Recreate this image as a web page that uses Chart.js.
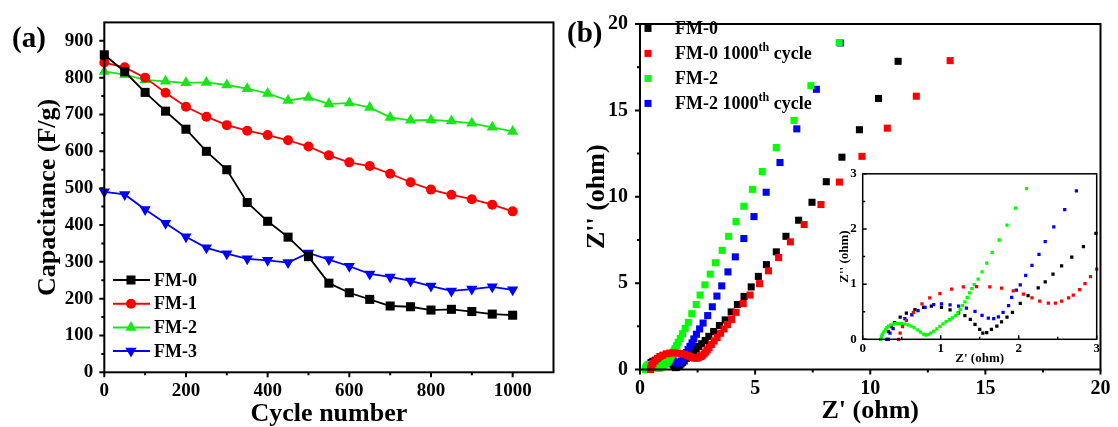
<!DOCTYPE html>
<html>
<head>
<meta charset="utf-8">
<script src="https://cdn.jsdelivr.net/npm/chart.js@4.4.1/dist/chart.umd.min.js"></script>
<style>
    body { margin: 0; background: #fff; }
    #wrap { position: relative; width: 1118px; height: 427px; overflow: hidden; background: #fff; }
    canvas { position: absolute; }
</style>
</head>
<body>
<div id="wrap">
    <canvas id="capChart" width="560" height="427" style="left:0;top:0"></canvas>
    <canvas id="eisChart" width="558" height="427" style="left:560px;top:0"></canvas>
    <canvas id="insetChart" width="270" height="215" style="left:836px;top:160px"></canvas>
</div>
<script>
// (a) capacitance vs cycle number
const cycles = [0, 50, 100, 150, 200, 250, 300, 350, 400, 450, 500, 550, 600, 650, 700, 750, 800, 850, 900, 950, 1000];
const fm0Cap = [862, 816, 760, 709, 660, 600, 550, 461, 410, 367, 314, 242, 216, 198, 180, 178, 169, 171, 165, 158, 155];
const fm1Cap = [841, 828, 800, 759, 721, 694, 671, 656, 644, 630, 613, 589, 570, 560, 539, 516, 496, 482, 470, 455, 437];
const fm2Cap = [817, 808, 794, 790, 786, 787, 780, 770, 757, 738, 746, 729, 731, 719, 692, 684, 685, 682, 676, 665, 654];
const fm3Cap = [490, 483, 442, 405, 368, 338, 322, 308, 304, 298, 324, 306, 288, 267, 259, 248, 234, 221, 226, 232, 224];

// (b) Nyquist plots, Z' and Z''
const fm0Re = [0.31, 0.33, 0.37, 0.41, 0.48, 0.56, 0.67, 0.78, 0.88, 1.01, 1.12, 1.23, 1.31, 1.38, 1.44, 1.50, 1.54, 1.59, 1.65, 1.72, 1.78, 1.85, 1.92, 2.02, 2.12, 2.25, 2.34, 2.44, 2.55, 2.68, 2.83, 2.99, 3.2, 3.45, 3.70, 3.96, 4.23, 4.52, 4.83, 5.14, 5.49, 5.92, 6.34, 6.89, 7.47, 8.09, 8.77, 9.53, 10.36, 11.21];
const fm0Im = [0, 0.14, 0.23, 0.30, 0.40, 0.475, 0.54, 0.58, 0.60, 0.58, 0.535, 0.48, 0.43, 0.36, 0.27, 0.18, 0.11, 0.12, 0.18, 0.24, 0.315, 0.40, 0.49, 0.65, 0.79, 0.93, 1.04, 1.18, 1.33, 1.49, 1.68, 1.92, 2.2, 2.55, 2.87, 3.33, 3.76, 4.23, 4.78, 5.39, 6.07, 6.81, 7.71, 8.64, 9.68, 10.87, 12.29, 13.88, 15.69, 17.84];

const fm0cRe = [0.46, 0.48, 0.51, 0.56, 0.65, 0.76, 0.86, 0.99, 1.14, 1.29, 1.46, 1.63, 1.78, 1.93, 2.06, 2.17, 2.27, 2.38, 2.47, 2.55, 2.64, 2.70, 2.78, 2.85, 2.92, 3.0, 3.1, 3.22, 3.35, 3.5, 3.65, 3.8, 3.98, 4.17, 4.48, 4.78, 5.19, 5.58, 6.02, 6.53, 7.13, 7.86, 8.66, 9.64, 10.74, 12.0, 13.47];
const fm0cIm = [0, 0.11, 0.23, 0.345, 0.49, 0.64, 0.75, 0.83, 0.91, 0.95, 0.957, 0.95, 0.927, 0.88, 0.82, 0.75, 0.69, 0.655, 0.655, 0.69, 0.75, 0.80, 0.90, 1.01, 1.135, 1.27, 1.45, 1.65, 1.85, 2.1, 2.35, 2.6, 2.89, 3.31, 3.82, 4.31, 4.97, 5.71, 6.48, 7.39, 8.39, 9.55, 10.85, 12.34, 13.97, 15.82, 17.88];

const fm2Re = [0.23, 0.24, 0.25, 0.27, 0.29, 0.31, 0.33, 0.36, 0.39, 0.42, 0.46, 0.50, 0.54, 0.58, 0.62, 0.66, 0.70, 0.74, 0.78, 0.81, 0.84, 0.87, 0.91, 0.95, 0.99, 1.03, 1.07, 1.11, 1.15, 1.19, 1.22, 1.25, 1.28, 1.31, 1.34, 1.37, 1.40, 1.43, 1.48, 1.53, 1.59, 1.66, 1.75, 1.85, 1.96, 2.10, 2.25, 2.44, 2.61, 2.82, 3.05, 3.28, 3.57, 3.85, 4.17, 4.51, 4.89, 5.31, 5.92, 6.69, 7.42, 8.65];
const fm2Im = [0, 0.05, 0.09, 0.13, 0.17, 0.21, 0.24, 0.26, 0.275, 0.285, 0.29, 0.285, 0.275, 0.26, 0.24, 0.21, 0.17, 0.13, 0.095, 0.075, 0.085, 0.11, 0.15, 0.19, 0.235, 0.28, 0.32, 0.355, 0.39, 0.43, 0.48, 0.54, 0.61, 0.68, 0.76, 0.84, 0.92, 0.99, 1.09, 1.22, 1.38, 1.575, 1.80, 2.07, 2.38, 2.73, 3.23, 3.76, 4.31, 4.90, 5.52, 6.18, 6.90, 7.71, 8.56, 9.45, 10.43, 11.46, 12.85, 14.42, 16.43, 18.92];

const fm2cRe = [0.33, 0.35, 0.39, 0.46, 0.54, 0.63, 0.71, 0.80, 0.91, 1.01, 1.12, 1.23, 1.33, 1.44, 1.53, 1.61, 1.68, 1.74, 1.80, 1.87, 1.91, 1.97, 2.02, 2.09, 2.17, 2.26, 2.34, 2.45, 2.59, 2.74, 2.94, 3.14, 3.34, 3.55, 3.82, 4.14, 4.51, 4.95, 5.48, 6.08, 6.81, 7.66, 8.7];
const fm2cIm = [0, 0.11, 0.195, 0.285, 0.375, 0.445, 0.52, 0.58, 0.63, 0.64, 0.625, 0.60, 0.565, 0.505, 0.435, 0.385, 0.375, 0.405, 0.49, 0.61, 0.76, 0.89, 0.985, 1.16, 1.34, 1.54, 1.77, 2.04, 2.35, 2.69, 3.12, 3.63, 4.25, 4.84, 5.65, 6.52, 7.58, 8.85, 10.26, 11.98, 13.93, 16.22, 18.9];

const serif = "'Liberation Serif', 'Times New Roman', serif";
Chart.defaults.font.family = serif;
Chart.defaults.color = '#000';

function pairs(xs, ys) {
    return xs.map((x, i) => ({ x: x, y: ys[i] }));
}

function isMajor(v, step) {
    return Math.abs(v / step - Math.round(v / step)) < 1e-6;
}

// box round the plot, with major and minor ticks
const framePlugin = {
    id: 'frame',
    beforeDatasetsDraw(chart, args, opts) {
        if (!opts.fill) return;
        const a = chart.chartArea;
        chart.ctx.save();
        chart.ctx.fillStyle = opts.fill;
        chart.ctx.fillRect(a.left, a.top, a.right - a.left, a.bottom - a.top);
        chart.ctx.restore();
    },
    afterDraw(chart, args, opts) {
        const ctx = chart.ctx;
        const a = chart.chartArea;
        const xs = chart.scales.x, ys = chart.scales.y;
        const dir = opts.inward ? -1 : 1;
        ctx.save();
        ctx.strokeStyle = '#000';
        ctx.lineWidth = opts.lineWidth;
        ctx.beginPath();
        for (let v = xs.min; v <= xs.max + 1e-9; v += opts.xMinor) {
            const major = isMajor(v, opts.xMajor);
            if (!major && v > xs.max - 1e-6) continue;
            const px = xs.getPixelForValue(v);
            ctx.moveTo(px, a.bottom);
            ctx.lineTo(px, a.bottom + dir * (major ? opts.len : opts.minorLen));
        }
        for (let v = ys.min; v <= ys.max + 1e-9; v += opts.yMinor) {
            const major = isMajor(v, opts.yMajor);
            if (!major && v > ys.max - 1e-6) continue;
            const py = ys.getPixelForValue(v);
            ctx.moveTo(a.left, py);
            ctx.lineTo(a.left - dir * (major ? opts.len : opts.minorLen), py);
        }
        ctx.stroke();
        ctx.strokeRect(a.left, a.top, a.right - a.left, a.bottom - a.top);
        ctx.restore();
    }
};

function drawMarker(ctx, style, x, y, r, color) {
    ctx.fillStyle = color;
    ctx.beginPath();
    if (style === 'rect') {
        const s = Math.SQRT1_2 * r;
        ctx.rect(x - s, y - s, 2 * s, 2 * s);
    } else if (style === 'circle') {
        ctx.arc(x, y, r, 0, Math.PI * 2);
    } else if (style === 'triangle') {
        ctx.moveTo(x, y - r);
        ctx.lineTo(x + r * 0.866, y + r * 0.5);
        ctx.lineTo(x - r * 0.866, y + r * 0.5);
        ctx.closePath();
    } else if (style === 'triangleDown') {
        ctx.moveTo(x, y + r);
        ctx.lineTo(x + r * 0.866, y - r * 0.5);
        ctx.lineTo(x - r * 0.866, y - r * 0.5);
        ctx.closePath();
    }
    ctx.fill();
}

const panelLabel = {
    id: 'panelLabel',
    afterDraw(chart, args, opts) {
        const ctx = chart.ctx;
        ctx.save();
        ctx.fillStyle = '#000';
        ctx.font = 'bold 29px ' + serif;
        ctx.textBaseline = 'alphabetic';
        ctx.fillText(opts.text, opts.x, opts.y);
        ctx.restore();
    }
};

// legend of panel (a): line with marker, then name
const lineLegend = {
    id: 'lineLegend',
    afterDraw(chart, args, opts) {
        const ctx = chart.ctx;
        ctx.save();
        ctx.font = 'bold 18px ' + serif;
        ctx.textBaseline = 'middle';
        opts.items.forEach((it, i) => {
            const y = opts.y + i * opts.gap;
            ctx.strokeStyle = it.color;
            ctx.lineWidth = 2;
            ctx.beginPath();
            ctx.moveTo(opts.x, y);
            ctx.lineTo(opts.x + 37, y);
            ctx.stroke();
            drawMarker(ctx, it.style, opts.x + 18, y, it.r, it.color);
            ctx.fillStyle = '#000';
            ctx.fillText(it.label, opts.x + 41, y + 1);
        });
        ctx.restore();
    }
};

// legend of panel (b): square, then name with superscript
const squareLegend = {
    id: 'squareLegend',
    afterDraw(chart, args, opts) {
        const ctx = chart.ctx;
        ctx.save();
        ctx.textBaseline = 'alphabetic';
        opts.items.forEach((it, i) => {
            const y = opts.y + i * opts.gap;
            ctx.fillStyle = it.color;
            ctx.fillRect(opts.x - 3.5, y - 3.5, 7, 7);
            ctx.fillStyle = '#000';
            let x = opts.x + 27;
            ctx.font = 'bold 18px ' + serif;
            ctx.fillText(it.label, x, y + 6);
            if (it.sup) {
                x += ctx.measureText(it.label).width;
                ctx.font = 'bold 12px ' + serif;
                ctx.fillText(it.sup, x, y - 2);
                x += ctx.measureText(it.sup).width;
                ctx.font = 'bold 18px ' + serif;
                ctx.fillText(it.rest, x, y + 6);
            }
        });
        ctx.restore();
    }
};

function axis(opts) {
    return {
        type: 'linear',
        min: opts.min,
        max: opts.max,
        grid: { display: false, drawTicks: false },
        border: { display: false },
        ticks: {
            stepSize: opts.step,
            includeBounds: false,
            padding: opts.pad,
            font: { size: opts.fontSize, weight: 'bold' },
            color: '#000',
            callback: v => String(v)
        },
        title: {
            display: true,
            text: opts.title,
            color: '#000',
            font: { size: opts.titleSize, weight: 'bold', lineHeight: 1 },
            padding: opts.titlePad
        },
        afterFit: opts.fit
    };
}

// ---------- panel (a)
const capSets = [
    { label: 'FM-0', data: fm0Cap, color: '#000000', style: 'rect', r: 6.4, rot: 0 },
    { label: 'FM-1', data: fm1Cap, color: '#ff0000', style: 'circle', r: 5, rot: 0 },
    { label: 'FM-2', data: fm2Cap, color: '#19e619', style: 'triangle', r: 6.5, rot: 0 },
    { label: 'FM-3', data: fm3Cap, color: '#0000ff', style: 'triangle', r: 6.5, rot: 180 }
];

new Chart(document.getElementById('capChart'), {
    type: 'scatter',
    data: {
        datasets: capSets.map(s => ({
            label: s.label,
            data: pairs(cycles, s.data),
            showLine: true,
            borderColor: s.color,
            backgroundColor: s.color,
            borderWidth: 1.8,
            pointStyle: s.style,
            pointRotation: s.rot,
            pointRadius: s.r,
            pointBorderWidth: 0,
            clip: false
        }))
    },
    options: {
        responsive: false,
        animation: false,
        layout: { padding: { left: 0, right: 2.3, top: 15.7, bottom: 0 } },
        scales: {
            x: axis({ min: 0, max: 1100, step: 200, pad: 7.7, fontSize: 19, title: 'Cycle number', titleSize: 26,
                titlePad: { top: 0, bottom: 0 }, fit: s => { s.height = 54.7; } }),
            y: axis({ min: 0, max: 950, step: 100, pad: 11, fontSize: 19, title: 'Capacitance (F/g)', titleSize: 26,
                titlePad: { top: 35, bottom: 0 }, fit: s => { s.width = 104.3; } })
        },
        plugins: {
            legend: { display: false },
            tooltip: { enabled: false },
            frame: { lineWidth: 2, len: 5, minorLen: 3, xMajor: 200, xMinor: 100, yMajor: 100, yMinor: 50 },
            panelLabel: { text: '(a)', x: 12, y: 47 },
            lineLegend: {
                x: 113, y: 280, gap: 23.7,
                items: capSets.map(s => ({ label: s.label, color: s.color, r: s.r,
                    style: s.rot ? 'triangleDown' : s.style }))
            }
        }
    },
    plugins: [framePlugin, panelLabel, lineLegend]
});

// ---------- panel (b)
const eisSets = [
    { label: 'FM-0 1000th cycle', re: fm0cRe, im: fm0cIm, color: '#ff0000' },
    { label: 'FM-2', re: fm2Re, im: fm2Im, color: '#00ff00' },
    { label: 'FM-2 1000th cycle', re: fm2cRe, im: fm2cIm, color: '#0000ff' },
    { label: 'FM-0', re: fm0Re, im: fm0Im, color: '#000000' }
];

function eisDatasets(radius, clip) {
    return eisSets.map(s => ({
        label: s.label,
        data: pairs(s.re, s.im),
        backgroundColor: s.color,
        borderColor: s.color,
        pointStyle: 'rect',
        pointRadius: radius,
        pointBorderWidth: 0,
        clip: clip
    }));
}

new Chart(document.getElementById('eisChart'), {
    type: 'scatter',
    data: { datasets: eisDatasets(5, false) },
    options: {
        responsive: false,
        animation: false,
        layout: { padding: { left: 0, right: 11, top: 15.7, bottom: 0 } },
        scales: {
            x: axis({ min: 0, max: 20, step: 5, pad: 7.5, fontSize: 20, title: "Z' (ohm)", titleSize: 26,
                titlePad: { top: 0, bottom: 3 }, fit: s => { s.height = 57.5; } }),
            y: axis({ min: 0, max: 20, step: 5, pad: 12, fontSize: 20, title: "Z'' (ohm)", titleSize: 26,
                titlePad: { top: 24, bottom: 0 }, fit: s => { s.width = 80; } })
        },
        plugins: {
            legend: { display: false },
            tooltip: { enabled: false },
            frame: { lineWidth: 2, len: 5, minorLen: 3, xMajor: 5, xMinor: 2.5, yMajor: 5, yMinor: 2.5 },
            panelLabel: { text: '(b)', x: 7, y: 42 },
            squareLegend: {
                x: 88, y: 28.4, gap: 25,
                items: [
                    { label: 'FM-0', color: '#000000' },
                    { label: 'FM-0 1000', sup: 'th', rest: ' cycle', color: '#ff0000' },
                    { label: 'FM-2', color: '#00ff00' },
                    { label: 'FM-2 1000', sup: 'th', rest: ' cycle', color: '#0000ff' }
                ]
            }
        }
    },
    plugins: [framePlugin, panelLabel, squareLegend]
});

// ---------- inset of panel (b)
new Chart(document.getElementById('insetChart'), {
    type: 'scatter',
    data: { datasets: eisDatasets(2.3, 3) },
    options: {
        responsive: false,
        animation: false,
        layout: { padding: { left: 0, right: 9.3, top: 11, bottom: 0 } },
        scales: {
            x: axis({ min: 0, max: 3, step: 1, pad: 2, fontSize: 13, title: "Z' (ohm)", titleSize: 13,
                titlePad: { top: 0, bottom: 9.5 }, fit: s => { s.height = 35.7; } }),
            y: axis({ min: 0, max: 3, step: 1, pad: 6, fontSize: 13, title: "Z'' (ohm)", titleSize: 13,
                titlePad: { top: 2.5, bottom: 0 }, fit: s => { s.width = 26.7; } })
        },
        plugins: {
            legend: { display: false },
            tooltip: { enabled: false },
            frame: { lineWidth: 1.5, len: 4, minorLen: 2.5, inward: true, fill: '#ffffff',
                xMajor: 1, xMinor: 0.5, yMajor: 1, yMinor: 0.5 }
        }
    },
    plugins: [framePlugin]
});
</script>
</body>
</html>
